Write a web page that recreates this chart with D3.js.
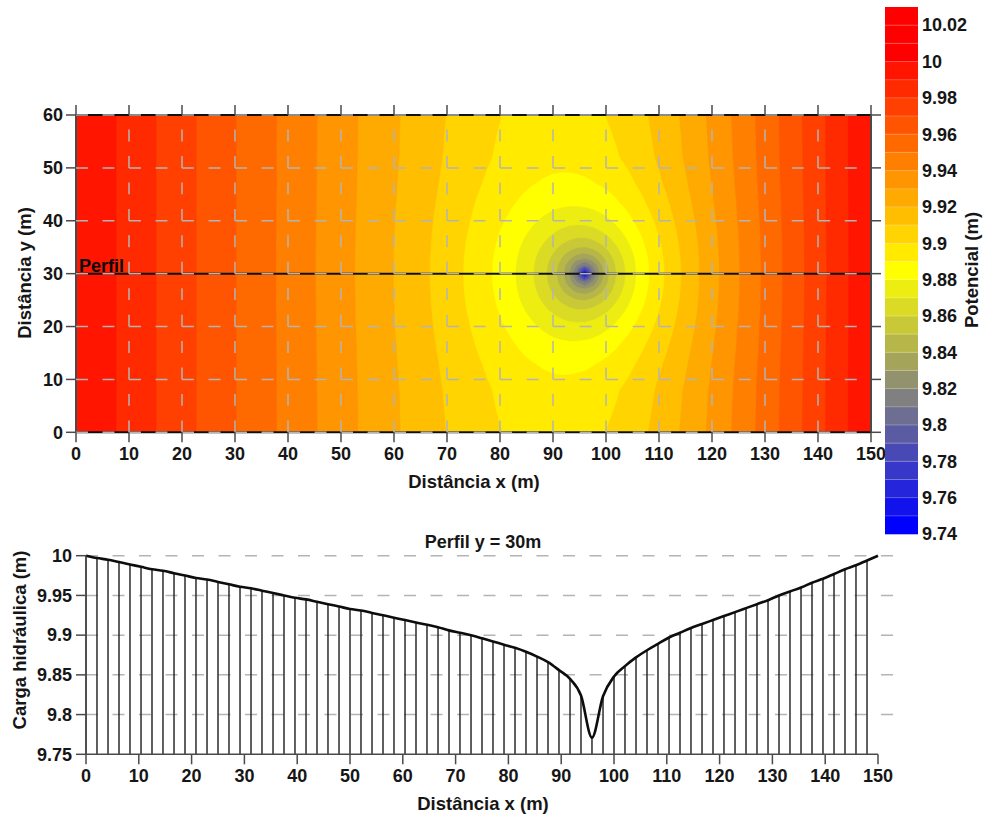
<!DOCTYPE html>
<html>
<head>
<meta charset="utf-8">
<script src="https://cdn.jsdelivr.net/npm/d3@7"></script>
<style>
  html, body { margin: 0; padding: 0; background: #ffffff; }
  svg { display: block; }
</style>
</head>
<body>
<svg id="chart" width="984" height="817"></svg>
<script>
// ---------------- data ----------------
// Hydraulic-head grid (m). Columns: x positions (m); rows: y positions (m) from the
// profile line y = 30 up to the top edge; the field is symmetric about y = 30.
const fieldX = [0, 18, 30, 42, 51, 60, 68, 74, 79, 83, 86, 88, 90, 91.5, 93, 94.5, 96,
                97.5, 99, 100.5, 102, 104, 106, 109, 113, 118, 124, 132, 141, 150];
const fieldY = [30, 31.5, 33, 34.5, 36, 38, 40, 43, 47, 52, 60];
const fieldHead = [
  [10.0000, 9.9762, 9.9603, 9.9443, 9.9322, 9.9198, 9.9081, 9.8984, 9.8890, 9.8798, 9.8711, 9.8637, 9.8543, 9.8447, 9.8311, 9.8075, 9.7450, 9.8090, 9.8342, 9.8493, 9.8604, 9.8720, 9.8814, 9.8932, 9.9065, 9.9211, 9.9369, 9.9569, 9.9785, 10.0000],
  [10.0000, 9.9762, 9.9603, 9.9443, 9.9322, 9.9198, 9.9082, 9.8985, 9.8891, 9.8800, 9.8715, 9.8643, 9.8553, 9.8465, 9.8350, 9.8196, 9.8082, 9.8211, 9.8381, 9.8511, 9.8615, 9.8725, 9.8818, 9.8934, 9.9066, 9.9211, 9.9370, 9.9569, 9.9785, 10.0000],
  [10.0000, 9.9762, 9.9603, 9.9443, 9.9322, 9.9199, 9.9082, 9.8986, 9.8894, 9.8806, 9.8725, 9.8659, 9.8580, 9.8510, 9.8431, 9.8355, 9.8323, 9.8371, 9.8462, 9.8556, 9.8642, 9.8741, 9.8828, 9.8940, 9.9069, 9.9213, 9.9370, 9.9569, 9.9785, 10.0000],
  [10.0000, 9.9762, 9.9603, 9.9443, 9.9323, 9.9199, 9.9084, 9.8989, 9.8899, 9.8815, 9.8740, 9.8682, 9.8618, 9.8565, 9.8514, 9.8475, 9.8463, 9.8490, 9.8545, 9.8611, 9.8679, 9.8765, 9.8843, 9.8949, 9.9074, 9.9215, 9.9372, 9.9570, 9.9786, 10.0000],
  [10.0000, 9.9762, 9.9603, 9.9443, 9.9323, 9.9200, 9.9085, 9.8992, 9.8906, 9.8827, 9.8759, 9.8710, 9.8658, 9.8620, 9.8587, 9.8565, 9.8562, 9.8580, 9.8618, 9.8666, 9.8720, 9.8792, 9.8862, 9.8961, 9.9081, 9.9219, 9.9373, 9.9570, 9.9786, 10.0000],
  [10.0000, 9.9762, 9.9603, 9.9444, 9.9323, 9.9201, 9.9088, 9.8998, 9.8917, 9.8845, 9.8788, 9.8749, 9.8711, 9.8686, 9.8667, 9.8657, 9.8658, 9.8672, 9.8698, 9.8733, 9.8773, 9.8831, 9.8891, 9.8979, 9.9091, 9.9224, 9.9376, 9.9571, 9.9786, 10.0000],
  [10.0000, 9.9762, 9.9603, 9.9444, 9.9324, 9.9202, 9.9091, 9.9005, 9.8929, 9.8865, 9.8817, 9.8787, 9.8759, 9.8743, 9.8731, 9.8727, 9.8730, 9.8742, 9.8762, 9.8789, 9.8821, 9.8869, 9.8920, 9.8999, 9.9103, 9.9231, 9.9380, 9.9573, 9.9787, 10.0000],
  [10.0000, 9.9762, 9.9603, 9.9444, 9.9325, 9.9205, 9.9097, 9.9015, 9.8947, 9.8895, 9.8858, 9.8837, 9.8820, 9.8811, 9.8806, 9.8806, 9.8811, 9.8821, 9.8837, 9.8857, 9.8882, 9.8919, 9.8961, 9.9028, 9.9122, 9.9242, 9.9385, 9.9575, 9.9788, 10.0000],
  [10.0000, 9.9762, 9.9603, 9.9445, 9.9326, 9.9208, 9.9105, 9.9030, 9.8971, 9.8930, 9.8904, 9.8891, 9.8881, 9.8877, 9.8876, 9.8879, 9.8884, 9.8894, 9.8907, 9.8923, 9.8943, 9.8973, 9.9007, 9.9064, 9.9146, 9.9256, 9.9393, 9.9579, 9.9789, 10.0000],
  [10.0000, 9.9762, 9.9603, 9.9445, 9.9327, 9.9212, 9.9113, 9.9045, 9.8995, 9.8962, 9.8944, 9.8935, 9.8931, 9.8930, 9.8931, 9.8935, 9.8941, 9.8950, 9.8962, 9.8976, 9.8992, 9.9018, 9.9047, 9.9096, 9.9169, 9.9271, 9.9401, 9.9582, 9.9790, 10.0000],
  [10.0000, 9.9762, 9.9603, 9.9446, 9.9328, 9.9214, 9.9119, 9.9054, 9.9009, 9.8982, 9.8968, 9.8962, 9.8959, 9.8959, 9.8962, 9.8966, 9.8973, 9.8982, 9.8993, 9.9006, 9.9021, 9.9044, 9.9071, 9.9116, 9.9184, 9.9281, 9.9407, 9.9585, 9.9791, 10.0000]
];

// Contour levels (m) and the values labelled on the colour bar
const colorLevels = [9.74, 9.75, 9.76, 9.77, 9.78, 9.79, 9.8, 9.81, 9.82, 9.83, 9.84, 9.85,
                     9.86, 9.87, 9.88, 9.89, 9.9, 9.91, 9.92, 9.93, 9.94, 9.95, 9.96, 9.97,
                     9.98, 9.99, 10, 10.01, 10.02, 10.03];
const colorbarTicks = [9.74, 9.76, 9.78, 9.8, 9.82, 9.84, 9.86, 9.88, 9.9, 9.92, 9.94,
                       9.96, 9.98, 10, 10.02];

// Map axes
const mapTicksX = [0, 10, 20, 30, 40, 50, 60, 70, 80, 90, 100, 110, 120, 130, 140, 150];
const mapTicksY = [0, 10, 20, 30, 40, 50, 60];
const profileLineY = 30;

// Head along the profile y = 30 m
const profileX = [0, 2.08, 4.17, 6.25, 8.33, 10.42, 12.5, 14.58, 16.67, 18.75, 20.83, 22.92,
  25, 27.08, 29.17, 31.25, 33.33, 35.42, 37.5, 39.58, 41.67, 43.75, 45.83, 47.92, 50, 52.08,
  54.17, 56.25, 58.33, 60.42, 62.5, 64.58, 66.67, 68.75, 70.83, 72.92, 75, 77.08, 79.17,
  81.25, 83.33, 85.42, 87.5, 89.58, 91.67, 93.75, 95.83, 97.92, 100, 102.08, 104.17, 106.25,
  108.33, 110.42, 112.5, 114.58, 116.67, 118.75, 120.83, 122.92, 125, 127.08, 129.17, 131.25,
  133.33, 135.42, 137.5, 139.58, 141.67, 143.75, 145.83, 147.92, 150];
const profileHead = [10.000, 9.997, 9.995, 9.992, 9.989, 9.986, 9.983, 9.981, 9.978, 9.975,
  9.972, 9.970, 9.967, 9.964, 9.961, 9.959, 9.956, 9.953, 9.950, 9.947, 9.945, 9.942, 9.939,
  9.936, 9.933, 9.931, 9.928, 9.925, 9.922, 9.919, 9.916, 9.913, 9.910, 9.906, 9.903, 9.900,
  9.896, 9.892, 9.888, 9.884, 9.879, 9.873, 9.866, 9.856, 9.845, 9.824, 9.771, 9.823, 9.848,
  9.861, 9.872, 9.881, 9.889, 9.897, 9.903, 9.909, 9.914, 9.919, 9.924, 9.929, 9.934, 9.939,
  9.944, 9.950, 9.955, 9.960, 9.966, 9.971, 9.977, 9.983, 9.988, 9.994, 10.000];
const profileTicksX = [0, 10, 20, 30, 40, 50, 60, 70, 80, 90, 100, 110, 120, 130, 140, 150];
const profileTicksY = [9.75, 9.8, 9.85, 9.9, 9.95, 10];

// ---------------- layout ----------------
const FONT = '"Liberation Sans", Arial, Helvetica, sans-serif';
const TEXT = "#161616";
const AXIS = "#4a4a4a";
const GRID = "#b4b4b4";

const svg = d3.select("#chart").style("font-family", FONT);
const fmt = d3.format("~g");

// Map panel scales
const xT = d3.scaleLinear().domain([0, 150]).range([76, 871]);
const yT = d3.scaleLinear().domain([0, 60]).range([432.3, 115]);
// Profile panel scales
const xB = d3.scaleLinear().domain([0, 150]).range([86, 878]);
const yB = d3.scaleLinear().domain([9.75, 10]).range([754.3, 555.7]);
// Colour bar scale
const yC = d3.scaleLinear().domain([9.74, 10.03]).range([534, 7]);

// Colour ramp: blue -> grey -> yellow -> red
const bandColor = d3.scaleLinear()
  .domain([9.745, 9.815, 9.885, 10.005])
  .range(["#0000ff", "#808080", "#ffff00", "#ff0000"])
  .interpolate(d3.interpolateRgb)
  .clamp(true);

// ---------------- map: filled contours ----------------
// full set of rows (lower half mirrored about y = 30)
const rowsY = [], rowsH = [];
for (let k = fieldY.length - 1; k >= 1; k--) { rowsY.push(60 - fieldY[k]); rowsH.push(fieldHead[k]); }
for (let k = 0; k < fieldY.length; k++) { rowsY.push(fieldY[k]); rowsH.push(fieldHead[k]); }

function locate(arr, v) {
  let i = d3.bisectRight(arr, v) - 1;
  i = Math.max(0, Math.min(arr.length - 2, i));
  return [i, (v - arr[i]) / (arr[i + 1] - arr[i])];
}
function headAt(x, y) {
  const [i, tx] = locate(fieldX, x);
  const [j, ty] = locate(rowsY, y);
  const r0 = rowsH[j], r1 = rowsH[j + 1];
  const a = r0[i] + (r0[i + 1] - r0[i]) * tx;
  const b = r1[i] + (r1[i + 1] - r1[i]) * tx;
  return a + (b - a) * ty;
}

const step = 0.5, nx = 301, ny = 121;
const values = new Float64Array(nx * ny);
for (let j = 0; j < ny; j++)
  for (let i = 0; i < nx; i++)
    values[j * nx + i] = headAt(i * step, j * step);

const bands = d3.contours().size([nx, ny]).thresholds(colorLevels.slice(0, -1))(values);
const toPx = d3.geoTransform({
  point(gx, gy) { this.stream.point(xT((gx - 0.5) * step), yT((gy - 0.5) * step)); }
});
const gpath = d3.geoPath(toPx);

svg.append("defs").append("clipPath").attr("id", "mapclip")
  .append("rect")
  .attr("x", xT(0)).attr("y", yT(60))
  .attr("width", xT(150) - xT(0)).attr("height", yT(0) - yT(60));

const map = svg.append("g").attr("clip-path", "url(#mapclip)");
map.selectAll("path.band").data(bands).join("path")
  .attr("class", "band")
  .attr("d", gpath)
  .attr("fill", d => bandColor(d.value + 0.005))
  .attr("stroke", d => bandColor(d.value + 0.005))
  .attr("stroke-width", 0.4);

// black frame lines (top, bottom) and the profile line
const frame = svg.append("g");
[0, 60, profileLineY].forEach(v => {
  frame.append("line")
    .attr("x1", xT(0)).attr("x2", xT(150))
    .attr("y1", yT(v)).attr("y2", yT(v))
    .attr("stroke", "#111").attr("stroke-width", 2);
});

// dashed grey grid (period 5 m)
const perX = xT(5) - xT(0), perY = yT(0) - yT(5);
const gridG = svg.append("g").attr("stroke", GRID).attr("stroke-width", 1.5).attr("fill", "none");
mapTicksY.forEach(v => {
  gridG.append("line")
    .attr("x1", xT(0)).attr("x2", xT(150))
    .attr("y1", yT(v)).attr("y2", yT(v))
    .attr("stroke-dasharray", `${(perX * 0.45).toFixed(2)} ${(perX * 0.55).toFixed(2)}`);
});
mapTicksX.filter(v => v > 0 && v < 150).forEach(v => {
  gridG.append("line")
    .attr("x1", xT(v)).attr("x2", xT(v))
    .attr("y1", yT(0)).attr("y2", yT(60))
    .attr("stroke-dasharray", `${(perY * 0.45).toFixed(2)} ${(perY * 0.55).toFixed(2)}`);
});

// side borders
[0, 150].forEach(v => {
  frame.append("line")
    .attr("x1", xT(v)).attr("x2", xT(v))
    .attr("y1", yT(0)).attr("y2", yT(60))
    .attr("stroke", AXIS).attr("stroke-width", 2);
});

// map axes (ticks on all four sides)
const axG = svg.append("g").attr("stroke", AXIS).attr("stroke-width", 1.5);
mapTicksX.forEach(v => {
  axG.append("line").attr("x1", xT(v)).attr("x2", xT(v)).attr("y1", yT(0)).attr("y2", yT(0) + 10);
  axG.append("line").attr("x1", xT(v)).attr("x2", xT(v)).attr("y1", yT(60) - 10).attr("y2", yT(60));
});
mapTicksY.forEach(v => {
  axG.append("line").attr("x1", xT(0) - 10).attr("x2", xT(0)).attr("y1", yT(v)).attr("y2", yT(v));
  axG.append("line").attr("x1", xT(150)).attr("x2", xT(150) + 10).attr("y1", yT(v)).attr("y2", yT(v));
});

const lab = svg.append("g").attr("fill", TEXT).attr("font-weight", "bold").attr("font-size", 18);
mapTicksX.forEach(v => {
  lab.append("text").attr("x", xT(v)).attr("y", 460).attr("text-anchor", "middle").text(fmt(v));
});
mapTicksY.forEach(v => {
  lab.append("text").attr("x", 63).attr("y", yT(v)).attr("dy", "0.35em")
    .attr("text-anchor", "end").text(fmt(v));
});
lab.append("text").attr("x", 474).attr("y", 488).attr("text-anchor", "middle")
  .attr("font-size", 18.5).text("Distância x (m)");
lab.append("text").attr("transform", "translate(31,273) rotate(-90)")
  .attr("text-anchor", "middle").attr("font-size", 18.5).text("Distância y (m)");
lab.append("text").attr("x", xT(0) + 3).attr("y", yT(profileLineY) - 1.5)
  .attr("fill", "#0a0a0a").text("Perfil");

// ---------------- colour bar ----------------
const cb = svg.append("g");
colorLevels.slice(0, -1).forEach(t => {
  cb.append("rect")
    .attr("x", 885).attr("width", 33)
    .attr("y", yC(t + 0.01)).attr("height", yC(t) - yC(t + 0.01) + 0.3)
    .attr("fill", bandColor(t + 0.005));
});
colorLevels.slice(1, -1).forEach(t => {
  cb.append("line").attr("x1", 885).attr("x2", 918).attr("y1", yC(t)).attr("y2", yC(t))
    .attr("stroke", "#ffffff").attr("stroke-opacity", 0.25).attr("stroke-width", 1);
});
colorbarTicks.forEach(v => {
  lab.append("text").attr("x", 922).attr("y", yC(v)).attr("dy", "0.35em").text(fmt(v));
});
lab.append("text").attr("transform", "translate(978,270) rotate(-90)")
  .attr("text-anchor", "middle").attr("font-size", 18.5).text("Potencial (m)");

// ---------------- profile panel ----------------
const pg = svg.append("g");
// dashed reference lines
profileTicksY.filter(v => v > 9.75).forEach(v => {
  pg.append("line")
    .attr("x1", xB(0)).attr("x2", 893)
    .attr("y1", yB(v)).attr("y2", yB(v))
    .attr("stroke", GRID).attr("stroke-width", 1.5)
    .attr("stroke-dasharray", "12 14.5");
});
// vertical bars from the base up to the head at each node
pg.selectAll("line.bar").data(profileX.slice(0, -1).map((x, i) => [x, profileHead[i]]))
  .join("line").attr("class", "bar")
  .attr("x1", d => xB(d[0])).attr("x2", d => xB(d[0]))
  .attr("y1", yB(9.75)).attr("y2", d => yB(d[1]))
  .attr("stroke", "#1c1c1c").attr("stroke-width", 1.4);
// head curve
pg.append("path")
  .datum(profileX.map((x, i) => [x, profileHead[i]]))
  .attr("d", d3.line().x(d => xB(d[0])).y(d => yB(d[1])).curve(d3.curveMonotoneX))
  .attr("fill", "none").attr("stroke", "#0d0d0d").attr("stroke-width", 2.6)
  .attr("stroke-linejoin", "round");

// axes
const pax = svg.append("g").attr("stroke", AXIS).attr("stroke-width", 1.5);
pax.append("line").attr("x1", xB(0)).attr("x2", xB(0)).attr("y1", yB(10)).attr("y2", yB(9.75));
pax.append("line").attr("x1", xB(0)).attr("x2", xB(150)).attr("y1", yB(9.75)).attr("y2", yB(9.75));
profileTicksY.forEach(v => {
  pax.append("line").attr("x1", xB(0) - 10).attr("x2", xB(0)).attr("y1", yB(v)).attr("y2", yB(v));
  lab.append("text").attr("x", 72).attr("y", yB(v)).attr("dy", "0.35em")
    .attr("text-anchor", "end").text(fmt(v));
});
profileTicksX.forEach(v => {
  pax.append("line").attr("x1", xB(v)).attr("x2", xB(v)).attr("y1", yB(9.75)).attr("y2", yB(9.75) + 10);
  lab.append("text").attr("x", xB(v)).attr("y", 782).attr("text-anchor", "middle").text(fmt(v));
});
lab.append("text").attr("x", 483).attr("y", 810).attr("text-anchor", "middle")
  .attr("font-size", 18.5).text("Distância x (m)");
lab.append("text").attr("transform", "translate(26,640) rotate(-90)")
  .attr("text-anchor", "middle").attr("font-size", 18.5).text("Carga hidráulica (m)");
lab.append("text").attr("x", 483).attr("y", 548).attr("text-anchor", "middle")
  .attr("font-size", 18).text("Perfil y = 30m");
</script>
</body>
</html>
